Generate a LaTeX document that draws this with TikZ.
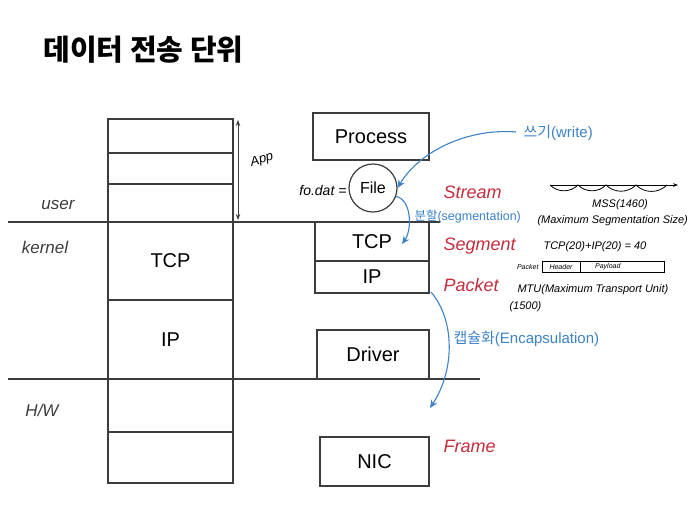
\documentclass[tikz,border=0pt]{standalone}
\usepackage{fontspec}
\setmainfont{Liberation Sans}
\newfontfamily\kr{Noto Sans CJK KR}
\usetikzlibrary{arrows.meta}
\definecolor{ink}{RGB}{60,60,60}
\definecolor{inkblue}{RGB}{60,130,200}
\definecolor{inkred}{RGB}{195,45,60}
\tikzset{
  cell/.style={draw=ink, line width=1.2pt, minimum width=125pt, inner sep=0pt, font=\fontsize{20}{20}\selectfont},
  box/.style={draw=ink, line width=1.2pt, inner sep=0pt, font=\fontsize{20}{20}\selectfont},
  side/.style={font=\fontsize{17}{17}\selectfont\itshape, text=ink},
  red/.style={font=\fontsize{18}{18}\selectfont\itshape, text=inkred},
  blue/.style={font=\fontsize{15}{15}\selectfont, text=inkblue},
  note/.style={font=\fontsize{11}{11}\selectfont\itshape, text=black},
  layer/.style={draw=ink, line width=1.2pt},
  bluearrow/.style={draw=inkblue, line width=1.1pt, -{Stealth[length=8pt,width=7pt]}}
}
\begin{document}
\begin{tikzpicture}[x=1pt,y=-1pt]
\useasboundingbox (0,0) rectangle (691,528);
% title
\node[font=\kr\bfseries\fontsize{29}{29}\selectfont, anchor=west] (title) at (40,50) {데이터 전송 단위};
% layer lines
\coordinate (uL) at (8,222); \coordinate (uR) at (440,222);
\coordinate (hL) at (8,379); \coordinate (hR) at (480,379);
\draw[layer] (uL) -- (uR);
\draw[layer] (hL) -- (hR);
% left column
\node[cell, minimum height=34pt] (c1) at (170.5,136) {};
\node[cell, minimum height=31pt] (c2) at (170.5,168.5) {};
\node[cell, minimum height=38pt] (c3) at (170.5,203) {};
\node[cell, minimum height=78pt] (tcpL) at (170.5,261) {TCP};
\node[cell, minimum height=79pt] (ipL) at (170.5,339.5) {IP};
\node[cell, minimum height=53pt] (c6) at (170.5,405.5) {};
\node[cell, minimum height=51pt] (c7) at (170.5,457.5) {};
% side labels
\node[side] (user) at (58,205) {user};
\node[side] (kernel) at (45,247) {kernel};
\node[side] (hw) at (42,410) {H/W};
% App arrow
\coordinate (appT) at (238,120);
\coordinate (appB) at (238,220);
\draw[ink, line width=1pt, {Stealth[length=6pt]}-{Stealth[length=6pt]}] (appT) -- (appB);
\node[font=\fontsize{13}{13}\selectfont\itshape, rotate=15] (app) at (262,160) {App};
\node[font=\fontsize{14}{14}\selectfont\itshape, anchor=east] (fd) at (350,190) {fo.dat =};
% middle column
\node[box, minimum width=116pt, minimum height=47pt] (proc) at (371,136.5) {Process};
\node[draw=ink, line width=1.2pt, circle, minimum size=48pt, inner sep=0pt, font=\fontsize{16}{16}\selectfont] (file) at (373,188) {File};
\node[box, minimum width=114pt, minimum height=39pt] (tcpM) at (372,241.5) {TCP};
\node[box, minimum width=114pt, minimum height=32pt] (ipM) at (372,277) {IP};
\node[box, minimum width=112pt, minimum height=49pt] (drv) at (373,354.5) {Driver};
\node[box, minimum width=109pt, minimum height=49pt] (nic) at (374.5,461.5) {NIC};
% red labels
\node[red, anchor=west] (stream) at (440,192) {Stream};
\node[red, anchor=west] (segment) at (440,246) {Segment};
\node[red, anchor=west] (packet) at (440,285) {Packet};
\node[red, anchor=west] (frame) at (440,446) {Frame};
% blue labels and arrows
\node[blue, anchor=west] (write) at (520,133) {{\kr 쓰기}(write)};
\node[blue, anchor=west, font=\fontsize{12.5}{12.5}\selectfont] (seg) at (411,217) {{\kr 분할}(segmentation)};
\node[blue, anchor=west] (encap) at (450,339) {{\kr 캡슐화}(Encapsulation)};
\coordinate (wS) at (516,132);
\coordinate (sgE) at (402,244);
\coordinate (enS) at (431,292);
\coordinate (enE) at (430,408);
\draw[bluearrow] (wS) .. controls (470,128) and (420,150) .. (file.east);
\draw[bluearrow] (file.-20) .. controls (412,200) and (412,230) .. (sgE);
\draw[bluearrow] (enS) .. controls (455,320) and (455,370) .. (enE);
% notes
\coordinate (mA) at (550,185); \coordinate (mB) at (678,185);
\draw[black, line width=0.8pt, -{Stealth[length=5pt]}] (mA) -- (mB);
\coordinate (k1) at (578,185); \coordinate (k2) at (606,185); \coordinate (k3) at (636,185); \coordinate (k4) at (667,185);
\draw[black, line width=0.8pt] (mA) to[bend right=45] (k1) to[bend right=45] (k2) to[bend right=45] (k3) to[bend right=45] (k4);
\node[note] (mss) at (620,205) {MSS(1460)};
\node[note, anchor=west] (msslong) at (534,221) {(Maximum Segmentation Size)};
\node[note, anchor=west] (hdr) at (540,247) {TCP(20)+IP(20) = 40};
\node[font=\fontsize{7}{7}\selectfont\itshape, anchor=east] (pk) at (542,267) {Packet};
\node[draw=black, line width=0.8pt, minimum width=38pt, minimum height=11pt, inner sep=0pt, font=\fontsize{7}{7}\selectfont\itshape] (hd) at (561,267) {Header};
\node[draw=black, line width=0.8pt, minimum width=84pt, minimum height=11pt, inner sep=0pt, anchor=west, font=\fontsize{7}{7}\selectfont\itshape] (pl) at (hd.east) {\hspace*{-30pt}Payload};
\node[note, anchor=west] (mtu) at (514,290) {MTU(Maximum Transport Unit)};
\node[note, anchor=west] (mtun) at (506,307) {(1500)};
\end{tikzpicture}
\end{document}
